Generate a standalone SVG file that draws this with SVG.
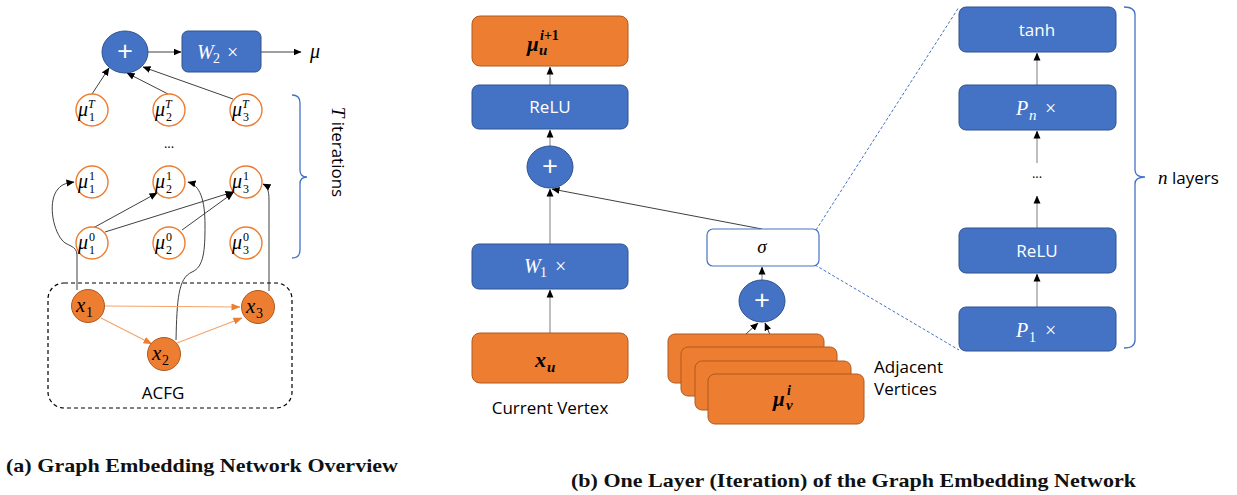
<svg xmlns="http://www.w3.org/2000/svg" width="1237" height="495" viewBox="0 0 1237 495">
<style>
.bb{fill:#4472C4;stroke:#2F528F;stroke-width:1}
.ob{fill:#ED7D31;stroke:#AE5A21;stroke-width:1}
.mc{fill:#fff;stroke:#ED7D31;stroke-width:1.4}
.sans{font-family:"Open Sans","Noto Sans",sans-serif}
.wt{fill:#fff}
.m{font-family:"Liberation Serif","DejaVu Serif",serif;font-style:italic}
.n{font-family:"Liberation Serif","DejaVu Serif",serif;font-style:normal}
.ln{stroke:#404040;stroke-width:1;fill:none}
.gl{stroke:#7f7f7f;stroke-width:1;fill:none}
.ol{stroke:#F4A46A;stroke-width:1.2;fill:none}
.br{stroke:#4472C4;stroke-width:1.3;fill:none}
.dl{stroke:#4472C4;stroke-width:1;stroke-dasharray:3,2;fill:none}
.cap{font-family:"Liberation Serif",serif;font-weight:bold;font-size:19px;fill:#111}
</style>
<defs>
<marker id="ah" markerWidth="8" markerHeight="8" refX="7.5" refY="4" orient="auto" markerUnits="userSpaceOnUse"><path d="M0,0.5 L8,4 L0,7.5 z" fill="#000"/></marker>
<marker id="oh" markerWidth="9" markerHeight="8" refX="8.5" refY="4" orient="auto" markerUnits="userSpaceOnUse"><path d="M0,0.5 L9,4 L0,7.5 z" fill="#ED7D31"/></marker>
</defs>
<rect width="1237" height="495" fill="#fff"/>

<!-- connectors -->
<g id="connectors">
<line class="ln" x1="148" y1="52" x2="181" y2="52" marker-end="url(#ah)"/>
<line class="ln" x1="261" y1="52" x2="301" y2="52" marker-end="url(#ah)"/>
<line class="ln" x1="92" y1="94" x2="109" y2="68" marker-end="url(#ah)"/>
<line class="ln" x1="168" y1="94" x2="127" y2="73" marker-end="url(#ah)"/>
<line class="ln" x1="233" y1="99" x2="143" y2="67" marker-end="url(#ah)"/>
<line class="ln" x1="93" y1="228" x2="157" y2="193" marker-end="url(#ah)"/>
<line class="ln" x1="105" y1="232" x2="233" y2="192" marker-end="url(#ah)"/>
<line class="ln" x1="182" y1="230" x2="233" y2="193" marker-end="url(#ah)"/>
<path class="ln" d="M77,290 L77,255 C77,245 66,246 62,240 C52,228 48,200 58,189 C62,184 67,183 74,182" marker-end="url(#ah)"/>
<path class="ln" d="M176,340 C177,300 178,278 192,272 C204,267 205,250 205,225 C205,200 200,185 188,182" marker-end="url(#ah)"/>
<path class="ln" d="M269,291 L269,200 C269,190 267,186 263,184" marker-end="url(#ah)"/>
<line class="ol" x1="105" y1="306" x2="240" y2="307" marker-end="url(#oh)"/>
<line class="ol" x1="101" y1="318" x2="152" y2="344" marker-end="url(#oh)"/>
<line class="ol" x1="177" y1="343" x2="242" y2="318" marker-end="url(#oh)"/>

<line class="gl" x1="550" y1="85" x2="550" y2="67" marker-end="url(#ah)"/>
<line class="gl" x1="550" y1="146" x2="550" y2="130" marker-end="url(#ah)"/>
<line class="gl" x1="550" y1="244" x2="550" y2="189" marker-end="url(#ah)"/>
<line class="gl" x1="550" y1="333" x2="550" y2="290" marker-end="url(#ah)"/>
<line class="ln" x1="762" y1="229" x2="552" y2="189" marker-end="url(#ah)"/>
<line class="gl" x1="762" y1="280" x2="762" y2="267" marker-end="url(#ah)"/>
<line class="ln" x1="746" y1="334" x2="758" y2="323" marker-end="url(#ah)"/>
<line class="ln" x1="787" y1="375" x2="765" y2="323" marker-end="url(#ah)"/>
<line class="gl" x1="1037" y1="85" x2="1037" y2="53" marker-end="url(#ah)"/>
<line class="gl" x1="1037" y1="163" x2="1037" y2="131" marker-end="url(#ah)"/>
<line class="gl" x1="1037" y1="228" x2="1037" y2="196" marker-end="url(#ah)"/>
<line class="gl" x1="1037" y1="307" x2="1037" y2="274" marker-end="url(#ah)"/>
<line class="dl" x1="816" y1="230" x2="959" y2="7"/>
<line class="dl" x1="815" y1="265" x2="959" y2="350"/>
</g>

<!-- (a) -->
<g id="plusA"><ellipse class="bb" cx="125" cy="52" rx="23" ry="21"/><text class="sans wt" x="125" y="61" font-size="28" text-anchor="middle">+</text></g>
<g id="W2"><rect class="bb" x="182" y="31" width="79" height="41" rx="6"/><text class="m wt" x="197" y="59" font-size="20">W</text><text class="n wt" x="213" y="63" font-size="14">2</text><text class="n wt" x="227" y="59" font-size="20">×</text></g>
<g id="mu-out"><text class="m" x="310" y="58" font-size="20">μ</text></g>

<g id="mu1T"><circle class="mc" cx="92" cy="110" r="16"/><text class="m" x="78" y="116" font-size="20">μ</text><text class="m" x="88" y="108" font-size="12">T</text><text class="n" x="89" y="121" font-size="12">1</text></g>
<g id="mu2T"><circle class="mc" cx="169" cy="110" r="16"/><text class="m" x="155" y="116" font-size="20">μ</text><text class="m" x="165" y="108" font-size="12">T</text><text class="n" x="166" y="121" font-size="12">2</text></g>
<g id="mu3T"><circle class="mc" cx="246" cy="110" r="16"/><text class="m" x="232" y="116" font-size="20">μ</text><text class="m" x="242" y="108" font-size="12">T</text><text class="n" x="243" y="121" font-size="12">3</text></g>
<text class="sans" x="169" y="148" font-size="13" text-anchor="middle">...</text>
<g id="mu11"><circle class="mc" cx="92" cy="182" r="16"/><text class="m" x="78" y="188" font-size="20">μ</text><text class="n" x="89" y="180" font-size="12">1</text><text class="n" x="89" y="193" font-size="12">1</text></g>
<g id="mu21"><circle class="mc" cx="169" cy="182" r="16"/><text class="m" x="155" y="188" font-size="20">μ</text><text class="n" x="166" y="180" font-size="12">1</text><text class="n" x="166" y="193" font-size="12">2</text></g>
<g id="mu31"><circle class="mc" cx="246" cy="182" r="16"/><text class="m" x="232" y="188" font-size="20">μ</text><text class="n" x="243" y="180" font-size="12">1</text><text class="n" x="243" y="193" font-size="12">3</text></g>
<g id="mu10"><circle class="mc" cx="92" cy="243" r="16"/><text class="m" x="78" y="249" font-size="20">μ</text><text class="n" x="89" y="241" font-size="12">0</text><text class="n" x="89" y="254" font-size="12">1</text></g>
<g id="mu20"><circle class="mc" cx="169" cy="243" r="16"/><text class="m" x="155" y="249" font-size="20">μ</text><text class="n" x="166" y="241" font-size="12">0</text><text class="n" x="166" y="254" font-size="12">2</text></g>
<g id="mu30"><circle class="mc" cx="246" cy="243" r="16"/><text class="m" x="232" y="249" font-size="20">μ</text><text class="n" x="243" y="241" font-size="12">0</text><text class="n" x="243" y="254" font-size="12">3</text></g>

<g id="braceT"><path class="br" d="M292,95 Q300,95 300,103 L300,170 Q300,177 307,177 Q300,177 300,184 L300,250 Q300,258 292,258"/>
<text transform="translate(332,152) rotate(90)" font-size="17" text-anchor="middle"><tspan class="m" font-size="19">T</tspan><tspan class="sans"> iterations</tspan></text></g>

<g id="ACFG"><rect x="48" y="283" width="244" height="125" rx="16" fill="none" stroke="#000" stroke-width="1.2" stroke-dasharray="4,3"/><text class="sans" x="163" y="399" font-size="17" text-anchor="middle">ACFG</text></g>
<g id="x1"><circle class="ob" cx="88" cy="306" r="16.5"/><text class="m" x="76" y="312" font-size="21">x</text><text class="n" x="86" y="317" font-size="14">1</text></g>
<g id="x2"><circle class="ob" cx="164" cy="354" r="16.5"/><text class="m" x="152" y="360" font-size="21">x</text><text class="n" x="162" y="365" font-size="14">2</text></g>
<g id="x3"><circle class="ob" cx="258" cy="307" r="16.5"/><text class="m" x="246" y="313" font-size="21">x</text><text class="n" x="256" y="318" font-size="14">3</text></g>

<!-- (b) -->
<g id="muOut"><rect class="ob" x="472" y="16" width="156" height="50" rx="8"/><text class="m" x="527" y="51" font-size="21" font-weight="bold">μ</text><text class="m" x="540" y="40" font-size="14" font-weight="bold">i<tspan class="n" font-style="normal">+1</tspan></text><text class="m" x="539" y="55" font-size="15" font-weight="bold">u</text></g>
<g id="ReLU1"><rect class="bb" x="472" y="85" width="156" height="44" rx="7"/><text class="sans wt" x="550" y="113" font-size="17" text-anchor="middle">ReLU</text></g>
<g id="plusB"><ellipse class="bb" cx="550" cy="167" rx="23" ry="21"/><text class="sans wt" x="550" y="176" font-size="28" text-anchor="middle">+</text></g>
<g id="W1"><rect class="bb" x="472" y="244" width="156" height="45" rx="7"/><text class="m wt" x="524" y="273" font-size="20">W</text><text class="n wt" x="540" y="277" font-size="14">1</text><text class="n wt" x="555" y="273" font-size="20">×</text></g>
<g id="xu"><rect class="ob" x="472" y="333" width="156" height="50" rx="8"/><text class="m" x="535" y="367" font-size="22" font-weight="bold">x</text><text class="m" x="547" y="372" font-size="15" font-weight="bold">u</text></g>
<text class="sans" x="550" y="414" font-size="17" text-anchor="middle">Current Vertex</text>

<g id="sigma"><rect x="707" y="229" width="112" height="37" rx="6" fill="#fff" stroke="#4472C4" stroke-width="1.2"/><text class="m" x="762" y="253" font-size="19" text-anchor="middle">σ</text></g>
<g id="plusC"><ellipse class="bb" cx="762" cy="301" rx="23" ry="21"/><text class="sans wt" x="762" y="310" font-size="28" text-anchor="middle">+</text></g>
<g id="adj">
<rect class="ob" x="668" y="334" width="156" height="49" rx="7"/>
<rect class="ob" x="681" y="347" width="156" height="49" rx="7"/>
<rect class="ob" x="695" y="361" width="156" height="49" rx="7"/>
<rect class="ob" x="708" y="374" width="156" height="50" rx="7"/>
<text class="m" x="773" y="406" font-size="21" font-weight="bold">μ</text><text class="m" x="787" y="395" font-size="14" font-weight="bold">i</text><text class="m" x="786" y="410" font-size="15" font-weight="bold">v</text>
</g>
<text class="sans" x="874" y="373" font-size="17">Adjacent</text>
<text class="sans" x="874" y="395" font-size="17">Vertices</text>

<g id="tanh"><rect class="bb" x="959" y="7" width="157" height="45" rx="7"/><text class="sans wt" x="1037" y="36" font-size="17" text-anchor="middle">tanh</text></g>
<g id="Pn"><rect class="bb" x="959" y="85" width="157" height="45" rx="7"/><text class="m wt" x="1016" y="115" font-size="20">P</text><text class="m wt" x="1029" y="120" font-size="15">n</text><text class="n wt" x="1045" y="115" font-size="20">×</text></g>
<text class="sans" x="1037" y="178" font-size="13" text-anchor="middle">...</text>
<g id="ReLU2"><rect class="bb" x="959" y="228" width="157" height="45" rx="7"/><text class="sans wt" x="1037" y="257" font-size="17" text-anchor="middle">ReLU</text></g>
<g id="P1"><rect class="bb" x="959" y="307" width="157" height="44" rx="7"/><text class="m wt" x="1016" y="337" font-size="20">P</text><text class="n wt" x="1029" y="342" font-size="14">1</text><text class="n wt" x="1045" y="337" font-size="20">×</text></g>
<g id="braceN"><path class="br" d="M1124,7 Q1135,7 1135,15 L1135,170 Q1135,177 1145,177 Q1135,177 1135,184 L1135,340 Q1135,348 1124,348"/>
<text x="1158" y="184" font-size="17"><tspan class="m" font-size="19">n</tspan><tspan class="sans"> layers</tspan></text></g>

<text class="cap" x="6" y="472" textLength="392" lengthAdjust="spacingAndGlyphs">(a) Graph Embedding Network Overview</text>
<text class="cap" x="571" y="487" textLength="565" lengthAdjust="spacingAndGlyphs">(b) One Layer (Iteration) of the Graph Embedding Network</text>
</svg>
